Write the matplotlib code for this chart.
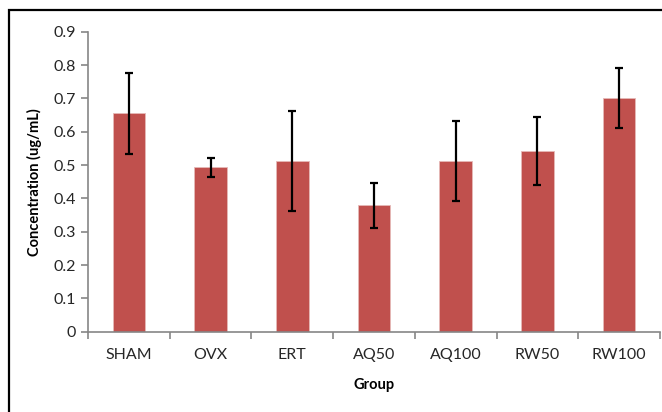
import matplotlib.pyplot as plt
from matplotlib.patches import Rectangle
import numpy as np

groups = ['SHAM', 'OVX', 'ERT', 'AQ50', 'AQ100', 'RW50', 'RW100']
means = [0.655, 0.493, 0.512, 0.379, 0.513, 0.542, 0.702]
errors = [0.121, 0.028, 0.150, 0.067, 0.120, 0.103, 0.090]

plt.rcParams['font.family'] = ['Lato', 'DejaVu Sans']

fig = plt.figure(figsize=(6.62, 4.12), dpi=100)
ax = fig.add_axes([88 / 662, 80.3 / 412, 572 / 662, 300 / 412])

# outer chart frame (runs off the right and bottom edges)
fig.patches.append(Rectangle((9 / 662, -0.05), 1.1, 1 - 10 / 412 + 0.05,
                             transform=fig.transFigure, fill=False,
                             edgecolor='black', linewidth=1.6))

x = np.arange(len(groups))
ax.bar(x, means, width=0.4, color='#C0504D', edgecolor='#E6B9B8', linewidth=0.6, zorder=2)
ax.errorbar(x, means, yerr=errors, fmt='none', ecolor='black',
            elinewidth=1.6, capsize=3, capthick=1.6, zorder=3)

ax.set_xlim(-0.5, len(groups) - 0.5)
ax.set_ylim(0, 0.9)
ax.set_yticks(np.arange(0, 0.91, 0.1))
ax.set_yticklabels(['0'] + [f'{v:.1f}' for v in np.arange(0.1, 0.91, 0.1)])
ax.set_xticks(x)
ax.set_xticklabels(groups)
ax.set_xticks(np.arange(-0.5, len(groups)), minor=True)

for s in ['top', 'right']:
    ax.spines[s].set_visible(False)
for s in ['left', 'bottom']:
    ax.spines[s].set_color('#868686')
    ax.spines[s].set_linewidth(1.2)

ax.tick_params(axis='y', direction='out', length=5, width=1.2, color='#868686',
               labelsize=11.5, labelcolor='#262626', pad=4)
ax.tick_params(axis='x', which='major', length=0, labelsize=11.5,
               labelcolor='#262626', pad=12)
ax.tick_params(axis='x', which='minor', direction='out', length=5, width=1.2,
               color='#868686')

ax.set_ylabel('Concentration (ug/mL)', fontsize=10.5, fontweight='bold', labelpad=8)
ax.set_xlabel('Group', fontsize=10.5, fontweight='bold', labelpad=11)

fig.savefig('out.png', dpi=100)
